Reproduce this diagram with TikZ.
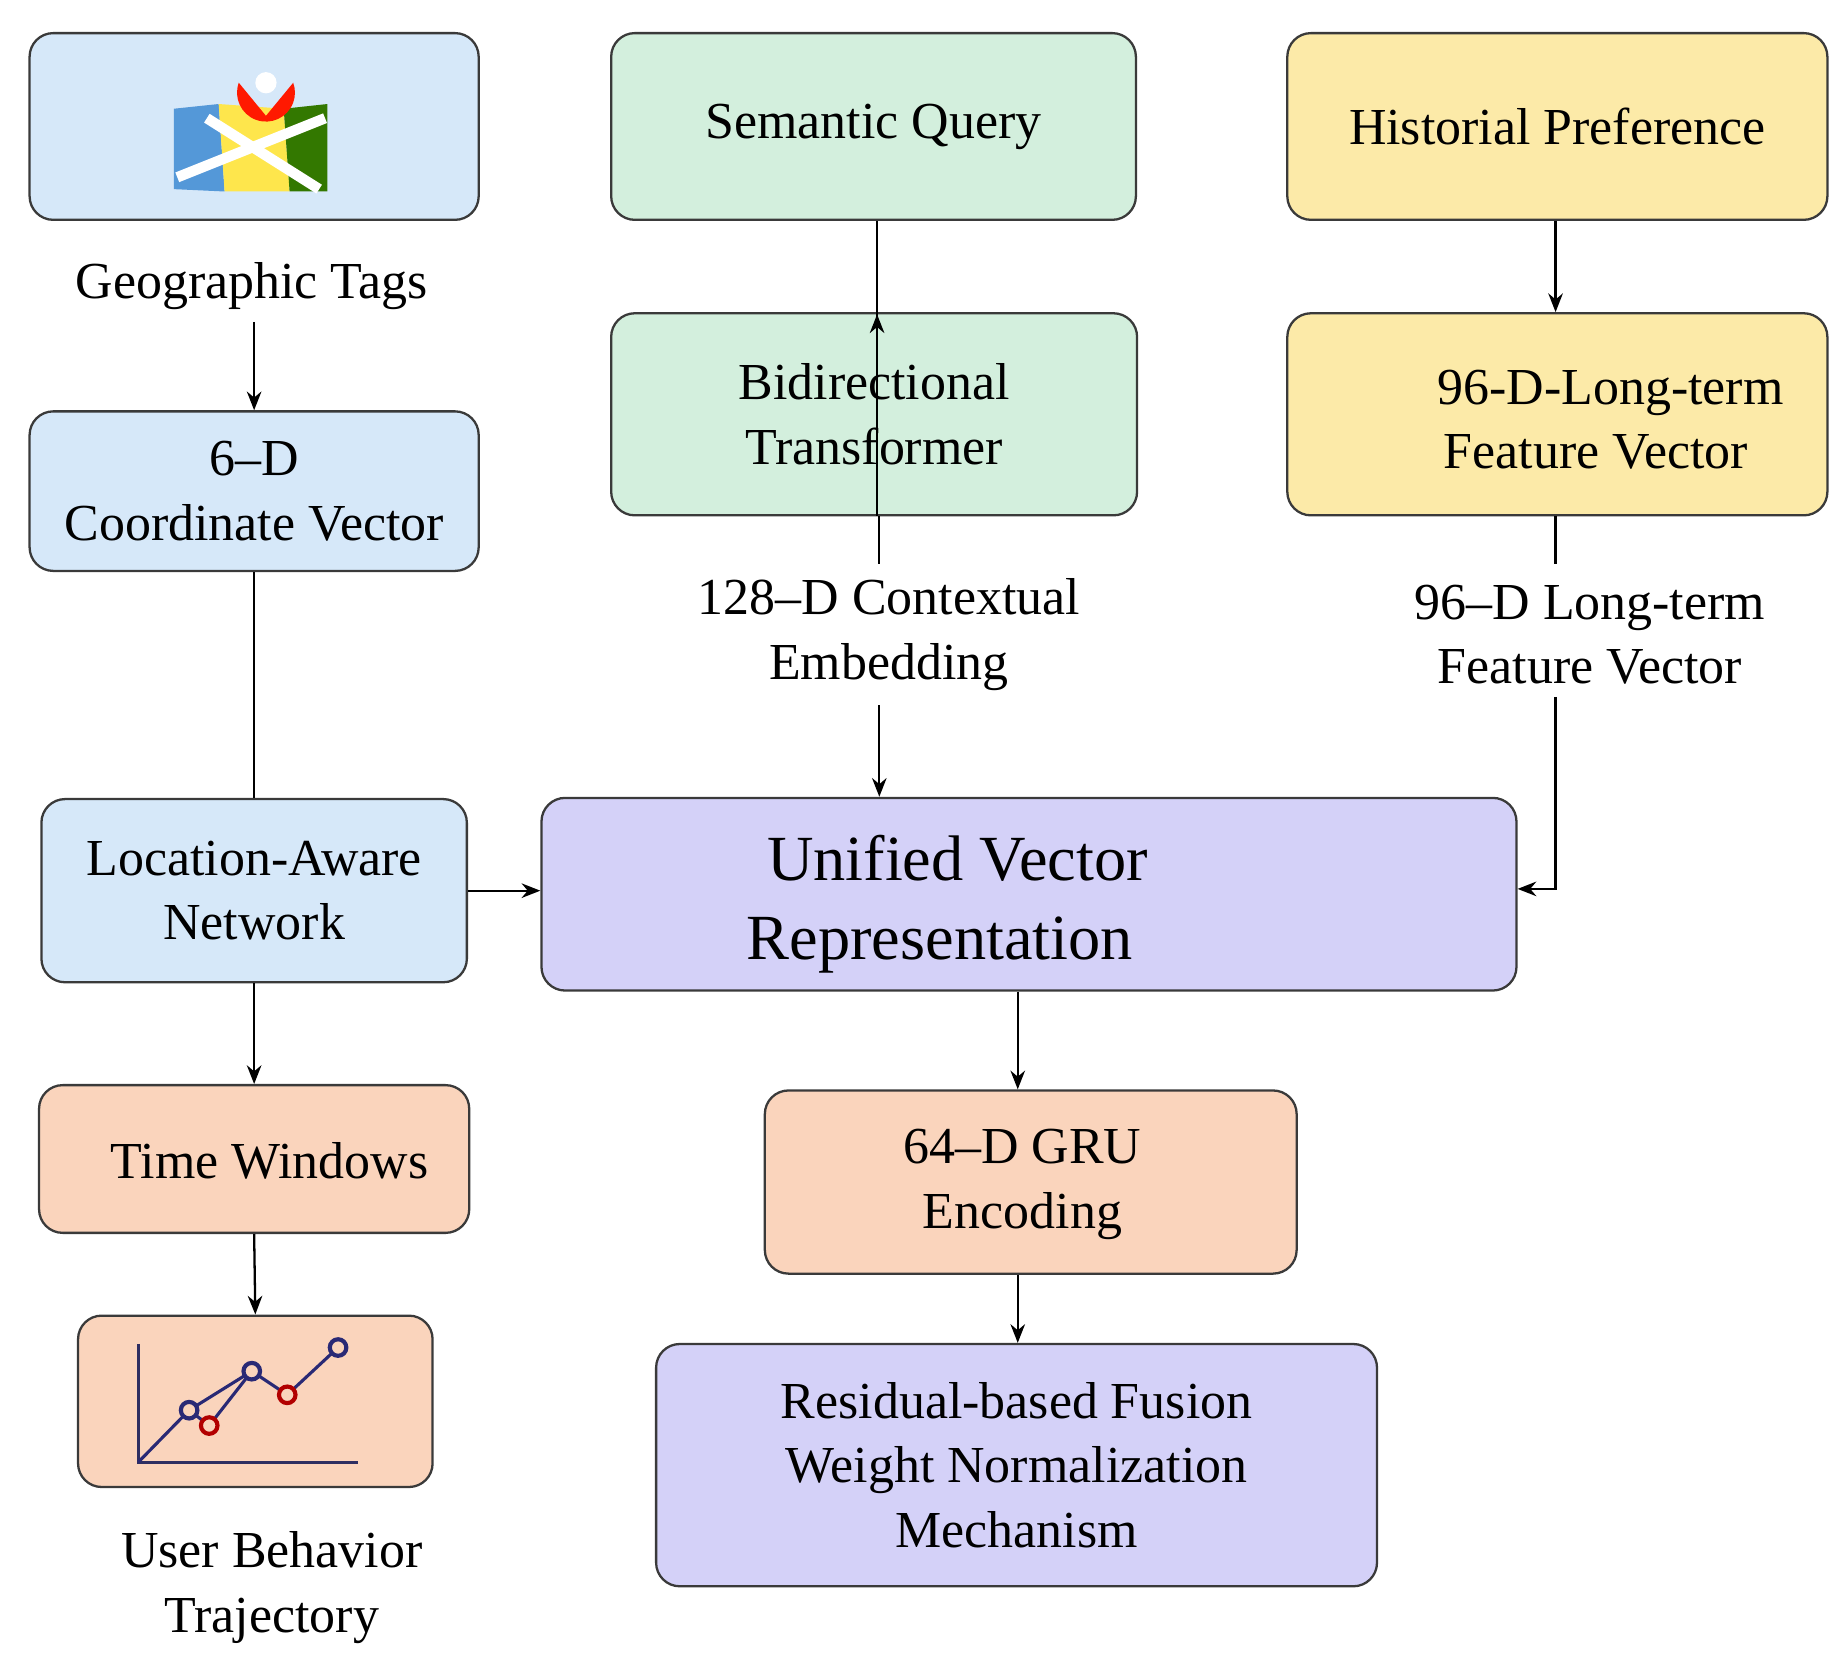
\documentclass[tikz,border=0pt]{standalone}
\usepackage{fontspec}
\setmainfont{Liberation Serif}
\usetikzlibrary{arrows.meta}
\definecolor{cblue}{HTML}{D6E8F9}
\definecolor{cgreen}{HTML}{D3EFDD}
\definecolor{cyellow}{HTML}{FCEAA8}
\definecolor{cpeach}{HTML}{FAD4BC}
\definecolor{clav}{HTML}{D4D1F8}
\definecolor{cline}{HTML}{3A3A3A}
\begin{document}
\begin{tikzpicture}[x=0.02cm,y=-0.02cm,
  box/.style={draw=cline,line width=1.1pt,rounded corners=0.4cm,align=center,inner sep=0pt},
  txt/.style={align=center,font=\fontsize{25}{31}\selectfont,inner sep=0pt},
  big/.style={align=center,font=\fontsize{31}{38}\selectfont,inner sep=0pt},
  arr/.style={-{Stealth[length=9pt,width=7pt]},line width=1.1pt,draw=black},
  ln/.style={line width=1.1pt,draw=black}]
\useasboundingbox (0,0) rectangle (1560,1412);
% boxes
\node[box,fill=cblue,minimum width=7.6cm,minimum height=3.16cm] (geo) at (215,107) {};
\node[txt] (geot) at (213,242) {Geographic Tags};
\node[box,fill=cblue,minimum width=7.6cm,minimum height=2.7cm,txt] (six) at (215,415.5) {6--D\\Coordinate Vector};
\node[box,fill=cblue,minimum width=7.2cm,minimum height=3.1cm,txt] (loc) at (215,753.5) {Location-Aware\\Network};
\node[box,fill=cpeach,minimum width=7.28cm,minimum height=2.5cm] (time) at (215,980.5) {};
\node[txt] (timet) at (228,982) {Time Windows};
\node[box,fill=cpeach,minimum width=6.0cm,minimum height=2.9cm] (chart) at (216,1185.5) {};
\node[txt] (ubt) at (230,1343) {User Behavior\\Trajectory};
\node[box,fill=cgreen,minimum width=8.88cm,minimum height=3.16cm,txt] (sem) at (739,107) {Semantic Query};
\node[box,fill=cgreen,minimum width=8.9cm,minimum height=3.42cm,txt] (bid) at (739.5,350.5) {Bidirectional\\Transformer};
\node[txt] (ctx) at (752,537) {128--D Contextual\\Embedding};
\node[box,fill=cyellow,minimum width=9.14cm,minimum height=3.16cm,txt] (hist) at (1317.5,107) {Historial Preference};
\node[box,fill=cyellow,minimum width=9.14cm,minimum height=3.42cm] (long) at (1317.5,350.5) {};
\node[txt] (longt) at (1350,355) {\hspace*{0.5cm}96-D-Long-term\\Feature Vector};
\node[txt] (ltv) at (1345,537) {96--D Long-term\\Feature Vector};
\node[box,fill=clav,minimum width=16.5cm,minimum height=3.26cm] (uni) at (870.5,756.5) {};
\node[big] (unit) at (795,765) {\hspace*{0.6cm}Unified Vector\\Representation};
\node[box,fill=cpeach,minimum width=9.0cm,minimum height=3.1cm,txt] (gru) at (872,1000) {};
\node[txt] (grut) at (865,1002) {64--D GRU\\Encoding};
\node[box,fill=clav,minimum width=12.2cm,minimum height=4.1cm,txt] (res) at (860,1239.5) {Residual-based Fusion\\Weight Normalization\\Mechanism};
% map icon
\begin{scope}
\fill[cyan!60!blue!70] (147,92) -- (185,88) -- (190,162) -- (147,160) -- cycle;
\fill[yellow!80!orange!70] (185,88) -- (240,92) -- (245,162) -- (190,162) -- cycle;
\fill[green!45!black!60!olive] (240,92) -- (277,88) -- (277,162) -- (245,162) -- cycle;
\draw[white,line width=5pt] (150,150) -- (275,100);
\draw[white,line width=5pt] (175,100) -- (270,160);
\fill[red!80!orange] (225,98) -- (202,70) arc[start angle=200,end angle=-20,radius=24.5] -- cycle;
\fill[white] (225,70) circle (9);
\end{scope}
\coordinate (co) at (117,1237);
\draw[cline!80!blue,line width=1.5pt] (117,1137) -- (co) -- (303,1237);
\draw[cline!70!blue,line width=1.5pt] (co) -- (160,1193) -- (213,1160) -- (243,1180) -- (286,1140);
\draw[cline!70!blue,line width=1.5pt] (160,1193) -- (177,1206) -- (213,1160);
\foreach \p in {(160,1193),(213,1160),(286,1140)} \draw[cline!70!blue,line width=2pt,fill=cpeach] \p circle (7);
\foreach \p in {(177,1206),(243,1180)} \draw[red!70!black,line width=2pt,fill=cpeach] \p circle (7);
% connectors
\draw[arr] (geot.south -| geo) ++(0,10) -- (six.north);
\draw[ln] (six.south) -- (loc.north);
\draw[arr] (loc.east) -- (loc.east -| uni.west);
\draw[arr] (loc.south) -- (time.north);
\draw[arr] (time.south) -- (chart.north);
\draw[arr] (sem.south -| 742,0) -- (bid.south -| 742,0) ++(0,-171) ;
\draw[ln] ([xshift=2.5pt]bid.south) -- ++(0,-0.8cm);
\draw[arr] ([xshift=2.5pt]ctx.south -| bid.south) ++(0,12) -- ([xshift=2.5pt]bid.south |- uni.north);
\draw[arr] (hist.south -| 1316,0) -- (long.north -| 1316,0);
\draw[ln] (long.south -| 1316,0) -- ++(0,-0.8cm);
\coordinate (lk) at (1316,752);
\draw[arr] (ltv.south -| 1316,0) ++(0,10) -- (lk) -- (uni.east |- lk);
\draw[arr] (uni.south -| 861,0) -- (gru.north -| 861,0);
\draw[arr] (gru.south -| 861,0) -- (res.north -| 861,0);
\end{tikzpicture}
\end{document}
